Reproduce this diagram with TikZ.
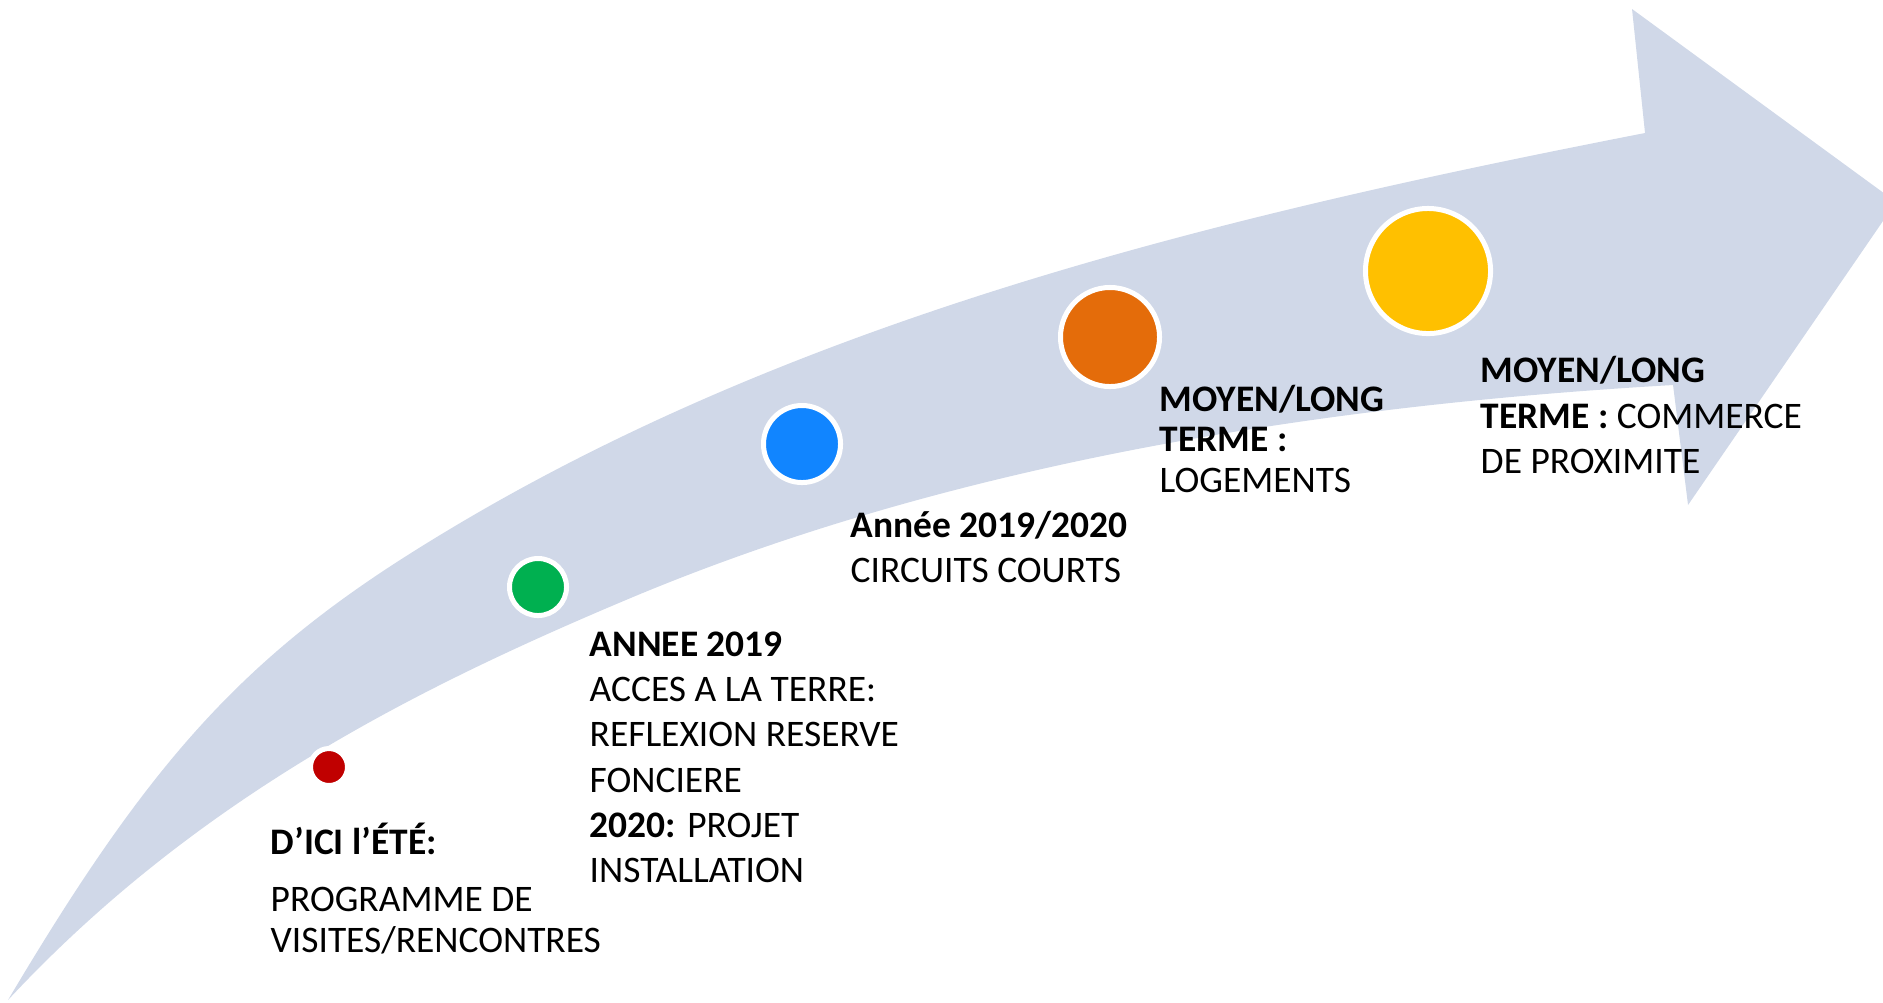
\documentclass[tikz,border=0pt]{standalone}
\usepackage{fontspec}
\setmainfont{Carlito}
\definecolor{bandblue}{HTML}{D0D8E8}
\definecolor{dotred}{HTML}{C00000}
\definecolor{dotgreen}{HTML}{00B050}
\definecolor{dotblue}{HTML}{1185FF}
\definecolor{dotorange}{HTML}{E46C0A}
\definecolor{dotyellow}{HTML}{FFC000}
\begin{document}
\begin{tikzpicture}[x=0.01cm,y=-0.01cm]
\tikzstyle{milestone}=[circle, draw=white, line width=0.05cm, inner sep=0pt]
\tikzstyle{caption}=[anchor=base west, align=left, inner sep=0pt, font=\fontsize{10.65}{12.8}\selectfont]
\tikzstyle{tight caption}=[caption, font=\fontsize{10.65}{11.4}\selectfont]
\useasboundingbox (0,0) rectangle (1883,1002);
\clip (0,0) rectangle (1883,1002);
%
\fill[bandblue] (8,1000) .. controls (141,776) and (232,668) .. (400,560)
  .. controls (770,323) and (1214,217) .. (1645,133)
  -- (1632,9) -- (1896,202) -- (1688,505) -- (1673,385)
  .. controls (1324,405) and (956,462) .. (633,597)
  .. controls (421,686) and (198,796) .. (8,1000) -- cycle;
%
\node[milestone, fill=dotred, minimum size=0.37cm] at (329,767) (red) {};
\node[milestone, fill=dotgreen, minimum size=0.57cm] at (538,587) (green) {};
\node[milestone, fill=dotblue, minimum size=0.77cm] at (802,444) (blue) {};
\node[milestone, fill=dotorange, minimum size=0.99cm] at (1110,337) (orange) {};
\node[milestone, fill=dotyellow, minimum size=1.25cm] at (1428,271) (yellow) {};
%
\node[tight caption] at (270,952) (summer) {\textbf{D’ICI l’ÉTÉ:}\\[4.8pt] PROGRAMME DE\\ VISITES/RENCONTRES};
\node[caption] at (589,882) (year19) {\textbf{ANNEE 2019}\\ ACCES A LA TERRE:\\ REFLEXION RESERVE\\ FONCIERE\\ \textbf{2020:} PROJET\\ INSTALLATION};
\node[caption] at (850,582) (year20) {\textbf{Année 2019/2020}\\ CIRCUITS COURTS};
\node[tight caption] at (1159,492) (housing) {\textbf{MOYEN/LONG}\\ \textbf{TERME :}\\ LOGEMENTS};
\node[caption] at (1480,473) (shops) {\textbf{MOYEN/LONG}\\ \textbf{TERME :} COMMERCE\\ DE PROXIMITE};
\end{tikzpicture}
\end{document}
